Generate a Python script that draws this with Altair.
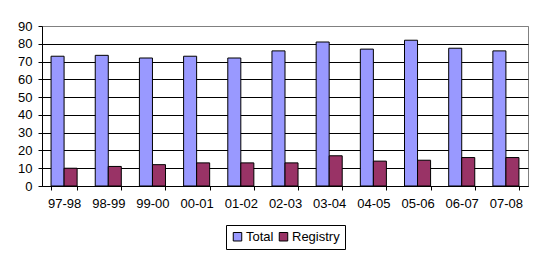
import altair as alt
import pandas as pd

categories = ["97-98", "98-99", "99-00", "00-01", "01-02", "02-03", "03-04", "04-05", "05-06", "06-07", "07-08"]
total = [73, 73.5, 72, 73, 72, 76, 81, 77, 82, 77.5, 76]
registry = [10, 11, 12, 13, 13, 13, 17, 14, 14.5, 16, 16]
series = ["Total", "Registry"]
colors = ["#9999FF", "#993366"]

rows = []
for c, t, r in zip(categories, total, registry):
    rows.append({"cat": c, "series": "Total", "value": t})
    rows.append({"cat": c, "series": "Registry", "value": r})
df = pd.DataFrame(rows)

FONT = "Liberation Sans"

chart = alt.Chart(df).mark_bar(stroke="black", strokeWidth=1).encode(
    x=alt.X("cat:N", sort=categories, title=None,
            scale=alt.Scale(paddingInner=0.41, paddingOuter=0.205),
            axis=alt.Axis(labelAngle=0, tickBand="extent", domainColor="black",
                          tickColor="black", tickSize=4, labelColor="black",
                          labelFont=FONT, labelFontSize=13, labelPadding=7,
                          grid=False)),
    xOffset=alt.XOffset("series:N", sort=series,
                        scale=alt.Scale(paddingInner=0, paddingOuter=0)),
    y=alt.Y("value:Q", title=None,
            scale=alt.Scale(domain=[0, 90], nice=False),
            axis=alt.Axis(values=list(range(0, 91, 10)), domainColor="black",
                          tickColor="black", tickSize=4, labelColor="black",
                          labelFont=FONT, labelFontSize=13, labelPadding=6,
                          grid=True,
                          gridColor={"condition": {"test": "datum.value === 90", "value": "#808080"}, "value": "black"},
                          gridOpacity=1)),
    color=alt.Color("series:N", sort=series,
                    scale=alt.Scale(domain=series, range=colors),
                    legend=alt.Legend(title=None, orient="none", legendX=184, legendY=199,
                                      direction="horizontal", strokeColor="black",
                                      padding=5, symbolType="square", symbolSize=72,
                                      symbolStrokeColor="black", symbolStrokeWidth=1,
                                      symbolOpacity=1,
                                      labelFont=FONT, labelFontSize=13, labelColor="black",
                                      columnPadding=3, labelOffset=2, fillColor="white")),
).properties(
    width=486, height=160,
    autosize=alt.AutoSizeParams(type="none"),
    padding={"left": 42, "top": 26, "right": 17, "bottom": 70},
    background="white",
).configure_view(stroke="#808080", strokeWidth=1)

chart.save("out.html", embed_options={"renderer": "svg", "actions": False})
